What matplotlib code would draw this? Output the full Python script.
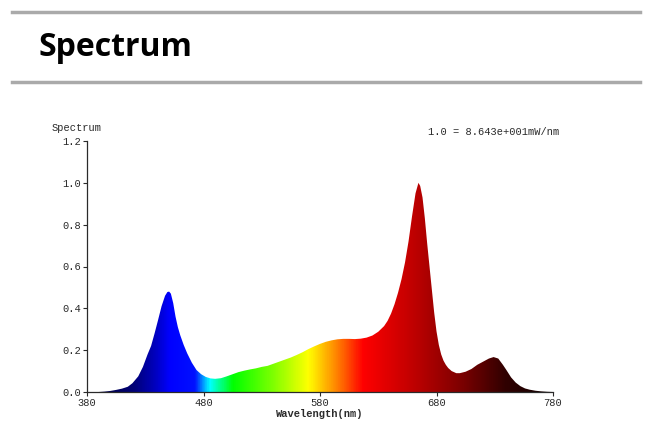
"""Spectrum chart: gradient-filled LED emission curve."""

import numpy as np
import matplotlib
import matplotlib.pyplot as plt
from matplotlib.colors import LinearSegmentedColormap
from matplotlib.lines import Line2D

matplotlib.use("Agg")

# relative spectrum (nm, normalised)
wavelength = [
    380, 385, 390, 395, 400, 405, 410, 415, 419, 424, 428, 432, 435, 438, 441,
    444, 447, 449, 450.5, 452, 454, 456, 458, 460, 463, 466, 470, 474, 478, 482,
    486, 490, 495, 500, 505, 510, 515, 520, 525, 530, 535, 540, 545, 550, 555,
    560, 565, 570, 575, 580, 585, 590, 595, 600, 605, 610, 615, 620, 625, 630,
    635, 638, 641, 644, 647, 650, 653, 656, 659, 662, 664.5, 666, 668, 670, 672,
    674, 676, 678, 680, 682, 684, 686, 688, 690, 693, 697, 700, 705, 710, 715,
    720, 725, 729, 733, 737, 740, 744, 748, 752, 756, 760, 765, 770, 775, 780,
]
intensity = [
    0.0, 0.0, 0.0, 0.002, 0.005, 0.01, 0.016, 0.025, 0.042, 0.075, 0.12, 0.18, 0.22, 0.28, 0.344,
    0.41, 0.46, 0.478, 0.48, 0.47, 0.425, 0.36, 0.31, 0.272, 0.225, 0.185, 0.14, 0.105, 0.085, 0.072,
    0.065, 0.063, 0.066, 0.075, 0.085, 0.095, 0.102, 0.108, 0.113, 0.12, 0.125, 0.135, 0.145, 0.155, 0.165,
    0.177, 0.19, 0.205, 0.218, 0.23, 0.24, 0.247, 0.252, 0.254, 0.254, 0.253, 0.255, 0.26, 0.27, 0.288,
    0.315, 0.34, 0.375, 0.42, 0.475, 0.54, 0.62, 0.72, 0.84, 0.95, 1.0, 0.985, 0.93, 0.83, 0.71,
    0.60, 0.49, 0.38, 0.29, 0.225, 0.18, 0.15, 0.13, 0.115, 0.10, 0.09, 0.09, 0.097, 0.11, 0.13,
    0.145, 0.16, 0.167, 0.16, 0.13, 0.105, 0.07, 0.045, 0.028, 0.017, 0.011, 0.006, 0.003, 0.001, 0.0,
]
x_ticks = [380, 480, 580, 680, 780]
y_ticks = [0.0, 0.2, 0.4, 0.6, 0.8, 1.0, 1.2]

# colour stops along the wavelength axis
color_stops = [
    (380, "#000030"), (420, "#000078"), (440, "#0000c8"), (450, "#0000ff"),
    (472, "#0010ff"), (485, "#00ffff"), (505, "#00ff00"), (540, "#80ff00"),
    (570, "#ffff00"), (595, "#ff8000"), (617, "#ff0000"), (660, "#c00000"),
    (700, "#800000"), (740, "#300000"), (780, "#100000"),
]

mono = "Liberation Mono"
grey = "#2a2a2a"

fig = plt.figure(figsize=(6.58, 4.32), dpi=100)

# header: two grey rules and the bold title
for y in (1 - 12 / 432, 1 - 81.5 / 432):
    fig.add_artist(Line2D([12 / 658, 640 / 658], [y, y], color="#aaaaaa", lw=2.5))
fig.text(38 / 658, 1 - 48 / 432, "Spectrum", fontsize=23, fontweight="bold",
         family="Open Sans", va="center", ha="left", color="black")

ax = fig.add_axes([87 / 658, 1 - 392 / 432, 466 / 658, 251 / 432])

wl0, wl1 = x_ticks[0], x_ticks[-1]
cmap = LinearSegmentedColormap.from_list(
    "spec", [((w - wl0) / (wl1 - wl0), c) for w, c in color_stops])
grad = np.linspace(0, 1, 800).reshape(1, -1)
img = ax.imshow(grad, cmap=cmap, aspect="auto", extent=[wl0, wl1, 0, 1.2],
                origin="lower", interpolation="bilinear")
fill = ax.fill_between(wavelength, intensity, 0, color="none", lw=0)
clip = fill.get_paths()[0]
img.set_clip_path(clip, transform=ax.transData)

ax.set_xlim(wl0, wl1)
ax.set_ylim(0, 1.2)
ax.set_xticks(x_ticks)
ax.set_yticks(y_ticks)
ax.set_yticklabels([f"{v:.1f}" for v in y_ticks])
for s in ("top", "right"):
    ax.spines[s].set_visible(False)
for s in ("left", "bottom"):
    ax.spines[s].set_color(grey)
    ax.spines[s].set_linewidth(0.9)
ax.tick_params(length=3, width=0.8, color=grey, labelsize=7.5, labelcolor=grey, pad=1)
for lab in ax.get_xticklabels() + ax.get_yticklabels():
    lab.set_family(mono)

ax.set_xlabel("Wavelength(nm)", family=mono, fontsize=7.5, color=grey,
              fontweight="bold", labelpad=1)
fig.text(52 / 658, 1 - 128 / 432, "Spectrum", family=mono, fontsize=7.5,
         color=grey, va="center", ha="left")
fig.text(428 / 658, 1 - 132 / 432, "1.0 = 8.643e+001mW/nm", family=mono,
         fontsize=7.5, color=grey, va="center", ha="left")

fig.savefig("out.png", dpi=100)
plt.close(fig)
